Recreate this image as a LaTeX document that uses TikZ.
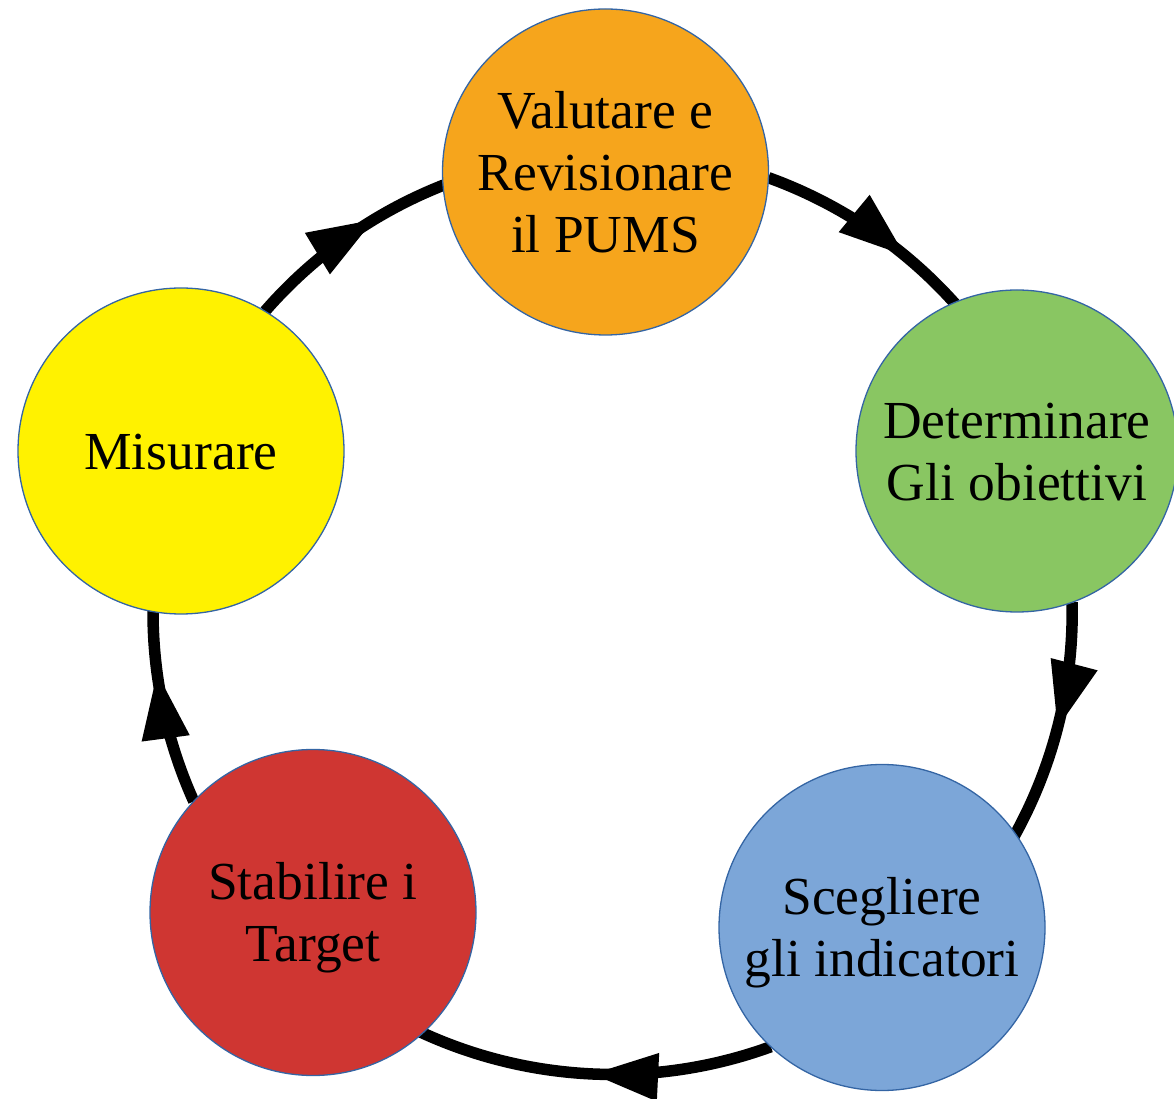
\documentclass[tikz,border=0pt]{standalone}
\usepackage{fontspec}
\setmainfont{Liberation Serif}
\usetikzlibrary{arrows.meta,decorations.markings,backgrounds}
\definecolor{cOrange}{RGB}{246,165,28}
\definecolor{cGreen}{RGB}{137,198,98}
\definecolor{cBlue}{RGB}{124,166,216}
\definecolor{cRed}{RGB}{207,54,50}
\definecolor{cYellow}{RGB}{255,242,0}
\definecolor{cBorder}{RGB}{52,101,164}
\newcommand\upS{\rule{0pt}{0.891em}}
\newcommand\dnS{\rule[-0.216em]{0pt}{0.216em}}
\tikzset{
  bubble/.style={circle, draw=cBorder, line width=1.3pt, inner sep=0pt, outer sep=0pt,
    minimum size=326pt, align=center, font=\fontsize{53.5}{62}\selectfont, text=black},
  ring/.style={line width=11.5pt, draw=black},
  headat/.style={postaction={decorate}, decoration={markings,
    mark=at position #1 with {\arrow{Triangle[length=67pt,width=45pt]}}}},
}
\begin{document}
\begin{tikzpicture}[x=1pt,y=1pt]
\useasboundingbox (0,0) rectangle (1174,1098);
\node[bubble, fill=cOrange] (top) at (605.5,926) {\upS Valutare e\\Revisionare\\il PUMS\dnS};
\node[bubble, fill=cGreen, minimum size=322pt] (right) at (1017,647) {\upS Determinare\\Gli obiettivi\dnS};
\node[bubble, fill=cBlue] (blue) at (882,170.5) {\upS Scegliere\\gli indicatori\dnS};
\node[bubble, fill=cRed] (red) at (313,185.5) {\upS Stabilire i\\Target\dnS};
\node[bubble, fill=cYellow] (yellow) at (181,647) {\upS Misurare\dnS};
\begin{pgfonlayer}{background}
\draw[ring, headat=159pt] (top.-2.95) arc[start angle=70.14, end angle=41.3, radius=460];
\draw[ring, headat=128pt] (right.-70.1) arc[start angle=1.29, end angle=-29.7, radius=460];
\draw[ring, headat=183pt] (blue.-133.72) arc[start angle=-69.99, end angle=-115.2, radius=460];
\draw[ring, headat=135pt] (red.137.48) arc[start angle=204.31, end angle=178.8, radius=460];
\draw[ring, headat=144pt] (yellow.59.06) arc[start angle=138.99, end angle=110.5, radius=460];
\end{pgfonlayer}
\end{tikzpicture}
\end{document}
